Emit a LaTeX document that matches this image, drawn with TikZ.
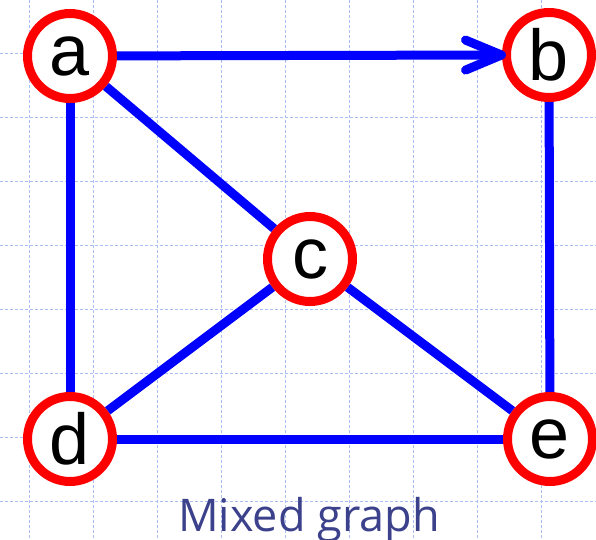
\documentclass[tikz,border=0pt]{standalone}
\usepackage{fontspec}
\setmainfont{Liberation Sans}
\newfontfamily\captionfont{Open Sans}
\usetikzlibrary{arrows.meta, backgrounds}
\definecolor{gridblue}{RGB}{170,190,245}
\definecolor{captionblue}{RGB}{60,65,140}

\tikzset{
    vertex/.style={circle, draw=red, fill=white, line width=9pt,
        minimum size=85pt, inner sep=0pt, font=\fontsize{72}{72}\selectfont},
    edge/.style={draw=blue, line width=9pt},
}

\begin{document}
\begin{tikzpicture}[x=1pt, y=-1pt]
    \useasboundingbox (0,0) rectangle (596,539);

    \node[vertex] (a) at (70,56) {a};
    \node[vertex] (b) at (549,55) {b};
    \node[vertex] (c) at (310,259) {c};
    \node[vertex] (d) at (70,439) {d};
    \node[vertex] (e) at (550,439) {e};

    \begin{pgfonlayer}{background}
        \draw[gridblue, line width=0.8pt, dash pattern=on 3pt off 2pt]
            \foreach \gx in {29,93,...,600} {(\gx,0) -- (\gx,539)}
            \foreach \gy in {53,117,...,539} {(0,\gy) -- (596,\gy)};
        \path[edge] (a) -- (d);
        \path[edge] (a) -- (c);
        \path[edge] (b) -- (e);
        \path[edge] (c) -- (d);
        \path[edge] (c) -- (e);
        \path[edge] (d) -- (e);
    \end{pgfonlayer}
    \path[edge, shorten >=-4pt, -{Straight Barb[length=36pt, width=30pt, round]}] (a) -- (b.west);

    \node[text=captionblue, font=\captionfont\fontsize{45}{45}\selectfont,
        anchor=base] (caption) at (309,531) {Mixed graph};
\end{tikzpicture}
\end{document}
